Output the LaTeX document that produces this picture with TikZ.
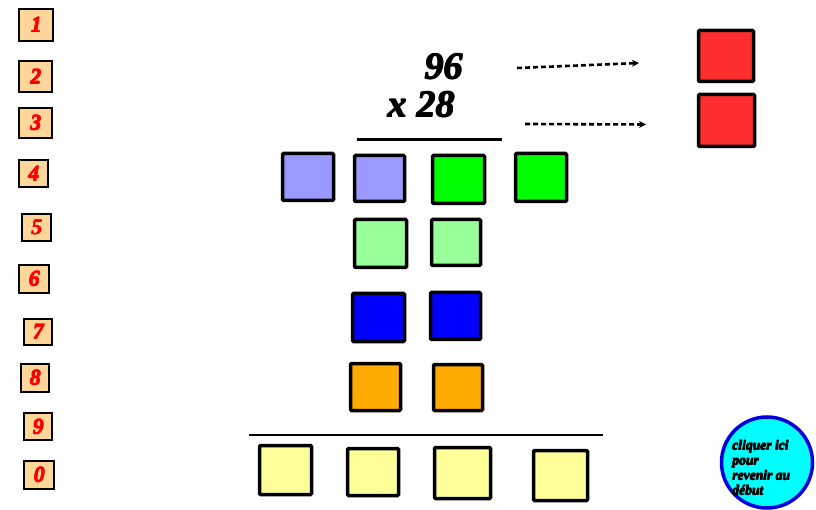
\documentclass[tikz,border=0pt]{standalone}
\usepackage{fontspec}
\setmainfont{Liberation Serif}
\newcommand{\bifont}{\bfseries\itshape}
% thicken text by overprinting shifted copies
\newcommand{\thk}[2][0.6pt]{\leavevmode\rlap{\kern#1\relax #2}\rlap{\raise#1\hbox{#2}}\rlap{\kern#1\relax\raise#1\hbox{#2}}#2}
\usetikzlibrary{arrows.meta}
\definecolor{lav}{HTML}{9999FF}
\definecolor{grn}{HTML}{00FF00}
\definecolor{lgrn}{HTML}{99FF99}
\definecolor{blu}{HTML}{0000FF}
\definecolor{org}{HTML}{FFAA00}
\definecolor{ylw}{HTML}{FFFF99}
\definecolor{rd}{HTML}{FF2E2E}
\definecolor{peach}{HTML}{FFD699}
\definecolor{cyanfill}{HTML}{00FFFF}
\definecolor{ringblue}{HTML}{0000DD}
\tikzset{
  sq/.style={draw=black, line width=3.5pt, rounded corners=1pt, inner sep=0pt},
  numbox/.style={draw=black, line width=2.2pt, fill=peach, inner sep=0pt,
    text=red, font=\bifont\fontsize{22}{22}\selectfont},
  bigtxt/.style={font=\bifont\fontsize{38}{38}\selectfont, inner sep=0pt},
  dotarrow/.style={line width=2.6pt, dash pattern=on 5pt off 3pt, -{Stealth[length=7pt,width=7pt]}},
}
\begin{document}
\begin{tikzpicture}[x=1pt,y=-1pt]
\useasboundingbox (0,0) rectangle (816,510);
% number boxes
\node[numbox, minimum width=34, minimum height=32] (n1) at (36,25) {\thk[0.7pt]{1}};
\node[numbox, minimum width=33, minimum height=31, line width=2.8pt] (n2) at (35.5,76.5) {\thk[0.7pt]{2}};
\node[numbox, minimum width=33, minimum height=30] (n3) at (35.5,123) {\thk[0.7pt]{3}};
\node[numbox, minimum width=29, minimum height=27] (n4) at (33.5,173.5) {\thk[0.7pt]{4}};
\node[numbox, minimum width=29, minimum height=27] (n5) at (36.5,227.5) {\thk[0.7pt]{5}};
\node[numbox, minimum width=30, minimum height=28] (n6) at (34,279) {\thk[0.7pt]{6}};
\node[numbox, minimum width=28, minimum height=26] (n7) at (38,332) {\thk[0.7pt]{7}};
\node[numbox, minimum width=28, minimum height=28] (n8) at (35,378) {\thk[0.7pt]{8}};
\node[numbox, minimum width=28, minimum height=27] (n9) at (38,426.5) {\thk[0.7pt]{9}};
\node[numbox, minimum width=30, minimum height=28] (n0) at (39,475) {\thk[0.7pt]{0}};
% operation
\node[bigtxt, anchor=base] (t96) at (443,80) {\thk[1.2pt]{96}};
\node[bigtxt, anchor=base] (t28) at (421,118) {\thk[1.2pt]{x 28}};
\draw[line width=2.8pt] (357,139.5) -- (502,139.5);
% arrows
\coordinate (a1s) at (517,68);
\coordinate (a1e) at (639,63);
\coordinate (a2s) at (525,124);
\coordinate (a2e) at (646,124.5);
\draw[dotarrow] (a1s) -- (a1e);
\draw[dotarrow] (a2s) -- (a2e);
% red squares
\node[sq, fill=rd, minimum width=55, minimum height=51] (r1) at (726,56) {};
\node[sq, fill=rd, minimum width=56, minimum height=52] (r2) at (726.5,120.5) {};
% row 1
\node[sq, fill=lav, minimum width=51, minimum height=47] (l1) at (308,177) {};
\node[sq, fill=lav, minimum width=50, minimum height=46] (l2) at (379.5,178.5) {};
\node[sq, fill=grn, minimum width=52, minimum height=48] (g1) at (458.5,179.5) {};
\node[sq, fill=grn, minimum width=51, minimum height=48] (g2) at (541,177.5) {};
% row 2
\node[sq, fill=lgrn, minimum width=52, minimum height=48] (lg1) at (380.5,243.5) {};
\node[sq, fill=lgrn, minimum width=49, minimum height=46] (lg2) at (456,242.5) {};
% row 3
\node[sq, fill=blu, minimum width=52, minimum height=48] (b1) at (378.5,317.5) {};
\node[sq, fill=blu, minimum width=50, minimum height=47] (b2) at (455.5,316) {};
% row 4
\node[sq, fill=org, minimum width=50, minimum height=47] (o1) at (375.5,387) {};
\node[sq, fill=org, minimum width=49, minimum height=46] (o2) at (458,387.5) {};
% result line
\draw[line width=2.8pt] (249,435) -- (603,435);
% yellow
\node[sq, fill=ylw, minimum width=52, minimum height=49] (y1) at (285.5,470) {};
\node[sq, fill=ylw, minimum width=51, minimum height=47] (y2) at (373,472) {};
\node[sq, fill=ylw, minimum width=56, minimum height=51] (y3) at (462.5,473) {};
\node[sq, fill=ylw, minimum width=54, minimum height=50] (y4) at (560.5,475.5) {};
% return button
\node[circle, draw=ringblue, line width=3.5pt, fill=cyanfill, minimum size=91, inner sep=0pt] (back) at (767,462.5) {};
\node[align=left, anchor=north west, inner sep=0pt,
  font=\bifont\fontsize{13.6}{15}\selectfont] (backtxt) at (732,440)
  {\thk[0.45pt]{cliquer ici}\\\thk[0.45pt]{pour}\\\thk[0.45pt]{revenir au}\\\thk[0.45pt]{début}};
\end{tikzpicture}
\end{document}
